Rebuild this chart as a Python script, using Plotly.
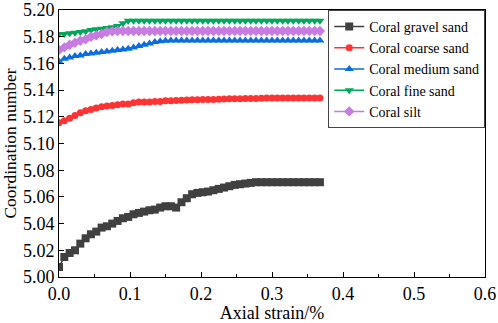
import plotly.graph_objects as go

strain = [0, 0.0075, 0.015, 0.0225, 0.03, 0.0375, 0.045, 0.0525, 0.06, 0.0675,
          0.075, 0.0825, 0.09, 0.0975, 0.105, 0.1125, 0.12, 0.1275, 0.135, 0.1425,
          0.15, 0.1575, 0.165, 0.1725, 0.18, 0.1875, 0.195, 0.2025, 0.21, 0.2175,
          0.225, 0.2325, 0.24, 0.2475, 0.255, 0.2625, 0.27, 0.2775, 0.285, 0.2925,
          0.3, 0.3075, 0.315, 0.3225, 0.33, 0.3375, 0.345, 0.3525, 0.36, 0.3675]

gravel = [5.0075, 5.015, 5.018, 5.020, 5.025, 5.029, 5.032, 5.034, 5.037, 5.038,
          5.040, 5.042, 5.044, 5.045, 5.047, 5.048, 5.049, 5.050, 5.0505, 5.052,
          5.053, 5.053, 5.052, 5.056, 5.059, 5.062, 5.063, 5.0635, 5.064, 5.065,
          5.066, 5.067, 5.068, 5.069, 5.0695, 5.070, 5.0705, 5.071, 5.071, 5.071,
          5.071, 5.071, 5.071, 5.071, 5.071, 5.071, 5.071, 5.071, 5.071, 5.071]

coarse = [5.1155, 5.117, 5.119, 5.121, 5.123, 5.1245, 5.1255, 5.1265, 5.1275, 5.128,
          5.1285, 5.129, 5.1295, 5.1295, 5.1305, 5.131, 5.131, 5.131, 5.1315, 5.1315,
          5.132, 5.132, 5.1322, 5.1324, 5.1326, 5.1328, 5.1328, 5.133, 5.133, 5.133,
          5.1332, 5.1334, 5.1335, 5.1335, 5.1336, 5.1337, 5.1338, 5.1338, 5.1339, 5.134,
          5.134, 5.134, 5.134, 5.134, 5.134, 5.134, 5.134, 5.134, 5.134, 5.134]

medium = [5.1615, 5.1635, 5.1645, 5.1655, 5.166, 5.167, 5.1675, 5.168, 5.1685, 5.169,
          5.1695, 5.170, 5.1705, 5.171, 5.172, 5.173, 5.174, 5.175, 5.176, 5.1765,
          5.177, 5.1772, 5.1772, 5.1772, 5.1772, 5.1772, 5.1772, 5.1772, 5.1772, 5.1772,
          5.1772, 5.1772, 5.1772, 5.1772, 5.1772, 5.1772, 5.1772, 5.1772, 5.1772, 5.1772,
          5.1772, 5.1772, 5.1772, 5.1772, 5.1772, 5.1772, 5.1772, 5.1772, 5.1772, 5.1772]

fine = [5.182, 5.182, 5.1825, 5.183, 5.1835, 5.184, 5.185, 5.1855, 5.186, 5.1865,
        5.187, 5.188, 5.190, 5.192, 5.192, 5.192, 5.192, 5.192, 5.192, 5.192,
        5.192, 5.192, 5.192, 5.192, 5.192, 5.192, 5.192, 5.192, 5.192, 5.192,
        5.192, 5.192, 5.192, 5.192, 5.192, 5.192, 5.192, 5.192, 5.192, 5.192,
        5.192, 5.192, 5.192, 5.192, 5.192, 5.192, 5.192, 5.192, 5.192, 5.192]

silt = [5.170, 5.172, 5.174, 5.1755, 5.177, 5.178, 5.180, 5.181, 5.182, 5.1835,
        5.184, 5.1843, 5.1843, 5.1843, 5.1843, 5.1843, 5.1843, 5.1843, 5.1843, 5.1843,
        5.1843, 5.1843, 5.1843, 5.1843, 5.1843, 5.1843, 5.1843, 5.1843, 5.1843, 5.1843,
        5.1843, 5.1843, 5.1843, 5.1843, 5.1843, 5.1843, 5.1843, 5.1843, 5.1843, 5.1843,
        5.1843, 5.1843, 5.1843, 5.1843, 5.1843, 5.1843, 5.1843, 5.1843, 5.1843, 5.1843]

y_ticks = [5.00, 5.02, 5.04, 5.06, 5.08, 5.10, 5.12, 5.14, 5.16, 5.18, 5.20]
y_tick_labels = ["5.00", "5.02", "5.04", "5.06", "5.08", "5.10", "5.12", "5.14",
                 "5.16", "5.18", "5.20"]

names = ["Coral gravel sand", "Coral coarse sand", "Coral medium sand",
         "Coral fine sand", "Coral silt"]
series = [gravel, coarse, medium, fine, silt]
colors = ["#404040", "#ff3333", "#0a6ee0", "#00a85a", "#c77be3"]
symbols = ["square", "circle", "triangle-up", "triangle-down", "diamond"]
sizes = [8, 7, 8, 8, 8]

FONT = "Liberation Serif, Times New Roman, serif"

fig = go.Figure()
for nm, ys, c, s, sz in zip(names, series, colors, symbols, sizes):
    fig.add_trace(go.Scatter(
        x=strain, y=ys, name=nm, mode="lines+markers",
        line=dict(color=c, width=1.5),
        marker=dict(symbol=s, size=sz, color=c, line=dict(width=0)),
    ))

fig.update_layout(
    width=498, height=323,
    margin=dict(l=59, r=13, t=10, b=46),
    paper_bgcolor="white", plot_bgcolor="white",
    font=dict(family=FONT, size=18, color="black"),
    showlegend=True,
    legend=dict(x=0.632, y=1.0, xanchor="left", yanchor="top",
                bordercolor="#444", borderwidth=1, bgcolor="white",
                font=dict(family=FONT, size=14, color="black"),
                tracegroupgap=0, itemsizing="trace"),
    xaxis=dict(range=[0, 0.6], dtick=0.1, tickformat=".1f", automargin=False,
               showgrid=False, zeroline=False, ticklabeloverflow="allow",
               showline=True, linecolor="black", linewidth=1, mirror=True,
               ticks="inside", ticklen=5, tickcolor="black",
               tickfont=dict(family=FONT, size=18),
               minor=dict(ticks="inside", ticklen=3, dtick=0.05, tickcolor="black"),
               title=dict(text="Axial strain/%", standoff=2,
                          font=dict(family=FONT, size=18))),
    yaxis=dict(range=[5.0, 5.2], tickmode="array", tickvals=y_ticks,
               ticktext=y_tick_labels, automargin=False,
               showgrid=False, zeroline=False, ticklabeloverflow="allow",
               showline=True, linecolor="black", linewidth=1, mirror=True,
               ticks="inside", ticklen=5, tickcolor="black",
               tickfont=dict(family=FONT, size=18),
               title=dict(text="Coordination number", standoff=2,
                          font=dict(family=FONT, size=17.5))),
)

fig.write_html("out.html", config={"displayModeBar": False},
               post_script="document.body.style.margin='0';")
